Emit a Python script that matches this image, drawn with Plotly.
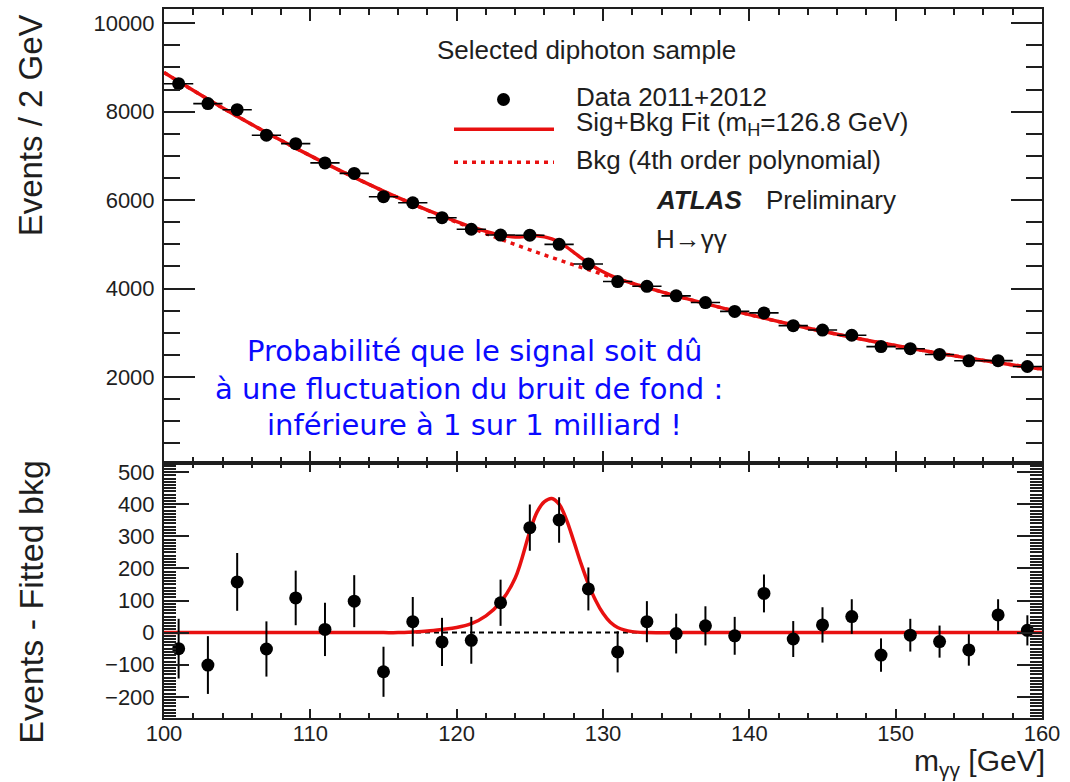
import plotly.graph_objects as go

# Diphoton invariant mass bins (bin centres, GeV) and the counts in each 2 GeV bin
mass = [101, 103, 105, 107, 109, 111, 113, 115, 117, 119, 121, 123, 125, 127, 129,
        131, 133, 135, 137, 139, 141, 143, 145, 147, 149, 151, 153, 155, 157, 159]
events = [8632, 8182, 8044, 7468, 7276, 6841, 6603, 6076, 5940, 5601, 5340, 5209, 5205, 4998, 4555,
          4157, 4050, 3834, 3682, 3482, 3448, 3160, 3060, 2942, 2686, 2638, 2508, 2365, 2368, 2236]
# Events minus fitted background, with their statistical uncertainties
residual = [-50, -101, 158, -51, 108, 10, 98, -122, 34, -29, -24, 93, 327, 351, 136,
            -60, 34, -3, 21, -10, 122, -20, 24, 50, -70, -8, -28, -54, 55, 7]
stat_err = [93, 90, 90, 86, 85, 83, 81, 78, 77, 75, 73, 72, 72, 71, 67,
            64, 64, 62, 61, 59, 59, 56, 55, 54, 52, 51, 50, 49, 49, 47]
bin_half_width = [1.0] * len(mass)

# Fitted curves: background polynomial and signal component on a common mass grid
fit_mass = [100, 101, 103, 105, 107, 109, 111, 113, 115, 116, 117, 118, 119, 120, 121, 122,
            123, 124, 125, 125.5, 126, 126.5, 127, 127.5, 128, 128.5, 129, 129.5, 130, 130.5,
            131, 132, 133, 135, 137, 139, 141, 143, 145, 147, 149, 151, 153, 155, 157, 159, 160]
bkg_fit = [8885, 8680, 8280, 7896, 7528, 7175, 6837, 6513, 6203, 6055, 5911, 5770, 5633, 5499, 5368, 5240,
           5116, 4994, 4875, 4817, 4759, 4702, 4645, 4589, 4534, 4479, 4425, 4372, 4319, 4267,
           4215, 4116, 4019, 3833, 3657, 3489, 3329, 3177, 3032, 2897, 2769, 2648, 2533, 2424, 2321, 2224, 2176]
sig_fit = [0, 0, 0, 0, 0, 0, 0, 0, 0, 0, 2, 5, 10, 16, 28, 52,
           95, 170, 315, 376, 408, 418, 400, 352, 285, 215, 152, 100, 60, 32,
           16, 3, 0, 0, 0, 0, 0, 0, 0, 0, 0, 0, 0, 0, 0, 0, 0]
sig_plus_bkg = [b + s for b, s in zip(bkg_fit, sig_fit)]
zero_line = [0] * len(fit_mass)

RED = "#e81010"
INK = "#1e1e1e"
FONT = "Liberation Sans, Arial, Helvetica, sans-serif"

# plot-area geometry in pixels (used to place the free text and legend)
L, R, T, B = 164, 1042, 5, 718
W, H = R - L, B - T


def px(x):
    return (x - L) / W


def py(y):
    return (B - y) / H


fig = go.Figure()

# ---- upper panel
fig.add_trace(go.Scatter(x=fit_mass, y=bkg_fit, mode="lines", xaxis="x", yaxis="y",
                         line=dict(color=RED, width=3.5, dash="4px,5px", shape="spline"),
                         showlegend=False, hoverinfo="skip"))
fig.add_trace(go.Scatter(x=fit_mass, y=sig_plus_bkg, mode="lines", xaxis="x", yaxis="y",
                         line=dict(color=RED, width=3.5, shape="spline"),
                         showlegend=False, hoverinfo="skip"))
fig.add_trace(go.Scatter(x=mass, y=events, mode="markers", xaxis="x", yaxis="y",
                         marker=dict(color="black", size=13),
                         error_x=dict(type="data", array=bin_half_width, color="black", thickness=1.6, width=0),
                         error_y=dict(type="data", array=stat_err, color="black", thickness=1.6, width=0),
                         showlegend=False))

# ---- lower panel (background reference drawn first, signal curve on top)
fig.add_trace(go.Scatter(x=fit_mass, y=zero_line, mode="lines", xaxis="x2", yaxis="y2",
                         line=dict(color="black", width=2, dash="5px,4px"),
                         showlegend=False, hoverinfo="skip"))
fig.add_trace(go.Scatter(x=fit_mass, y=sig_fit, mode="lines", xaxis="x2", yaxis="y2",
                         line=dict(color=RED, width=3.5, shape="spline"),
                         showlegend=False, hoverinfo="skip"))
fig.add_trace(go.Scatter(x=mass, y=residual, mode="markers", xaxis="x2", yaxis="y2",
                         marker=dict(color="black", size=13),
                         error_y=dict(type="data", array=stat_err, color="black", thickness=2, width=0),
                         showlegend=False))

split = (B - 462) / H
axis_common = dict(showline=True, linewidth=2, linecolor=INK, mirror="ticks", ticks="inside",
                   tickcolor=INK, showgrid=False, zeroline=False, tickformat="d",
                   tickfont=dict(family=FONT, size=22, color=INK))

fig.update_layout(
    width=1070, height=782,
    margin=dict(l=L, r=1070 - R, t=T, b=782 - B),
    paper_bgcolor="white", plot_bgcolor="white",
    xaxis=dict(axis_common, domain=[0, 1], anchor="y", range=[100, 160], dtick=10, tick0=100,
               ticklen=12, tickwidth=2, showticklabels=False,
               minor=dict(dtick=2, ticklen=6, ticks="inside", tickcolor=INK, tickwidth=1.5)),
    yaxis=dict(axis_common, domain=[split, 1], anchor="x", range=[43, 10322], dtick=2000, tick0=0,
               ticklen=31, tickwidth=2, ticklabelstandoff=3,
               minor=dict(dtick=500, ticklen=16, ticks="inside", tickcolor=INK, tickwidth=2)),
    xaxis2=dict(axis_common, domain=[0, 1], anchor="y2", range=[100, 160], dtick=10, tick0=100,
                ticklen=9, tickwidth=2, ticklabelstandoff=-5,
                minor=dict(dtick=2, ticklen=5, ticks="inside", tickcolor=INK, tickwidth=1.5)),
    yaxis2=dict(axis_common, domain=[0, split], anchor="x2", range=[-266, 527], dtick=100, tick0=0,
                ticklen=25, tickwidth=2, ticklabelstandoff=3,
                minor=dict(dtick=10, ticklen=12, ticks="inside", tickcolor=INK, tickwidth=1.5)),
)

ann = []


def text(s, x, y, size, xanchor="left", color=INK, family=FONT, angle=0):
    ann.append(dict(text=s, x=px(x), y=py(y), xref="paper", yref="paper", showarrow=False,
                    xanchor=xanchor, yanchor="middle", textangle=angle,
                    font=dict(family=family, size=size, color=color)))


# axis titles
text("Events / 2 GeV", 30, 122, 33, xanchor="center", angle=-90)
text("Events - Fitted bkg", 31, 602, 34, xanchor="center", angle=-90)
text("m<sub>γγ</sub> [GeV]", 1047, 763, 30, xanchor="right")

# legend block
text("Selected diphoton sample", 586, 46, 26, xanchor="center")
text("Data 2011+2012", 574, 93, 26)
text("Sig+Bkg Fit (m<sub>H</sub>=126.8 GeV)", 574, 120, 26)
text("Bkg (4th order polynomial)", 574, 157, 26)
text("<b><i>ATLAS</i></b>", 654, 197, 26)
text("Preliminary", 764, 197, 26)
text("H→γγ", 654, 236, 26)

# French caption
BLUE = "#0a0aff"
CAP_FONT = "DejaVu Sans, Verdana, sans-serif"
text("Probabilité que le signal soit dû", 474, 349, 29, xanchor="center", color=BLUE, family=CAP_FONT)
text("à une fluctuation du bruit de fond :", 469, 387, 29, xanchor="center", color=BLUE, family=CAP_FONT)
text("inférieure à 1 sur 1 milliard !", 474, 423, 29, xanchor="center", color=BLUE, family=CAP_FONT)

fig.update_layout(annotations=ann)

# legend samples
shapes = [
    dict(type="circle", xref="paper", yref="paper", x0=px(503.5 - 6.5), x1=px(503.5 + 6.5),
         y0=py(96 + 6.5), y1=py(96 - 6.5), fillcolor="black", line=dict(width=0)),
    dict(type="line", xref="paper", yref="paper", x0=px(454), x1=px(554), y0=py(126), y1=py(126),
         line=dict(color=RED, width=3.5)),
    dict(type="line", xref="paper", yref="paper", x0=px(454), x1=px(554), y0=py(159), y1=py(159),
         line=dict(color=RED, width=3.5, dash="4px,5px")),
]
fig.update_layout(shapes=shapes)

fig.write_html("out.html")
